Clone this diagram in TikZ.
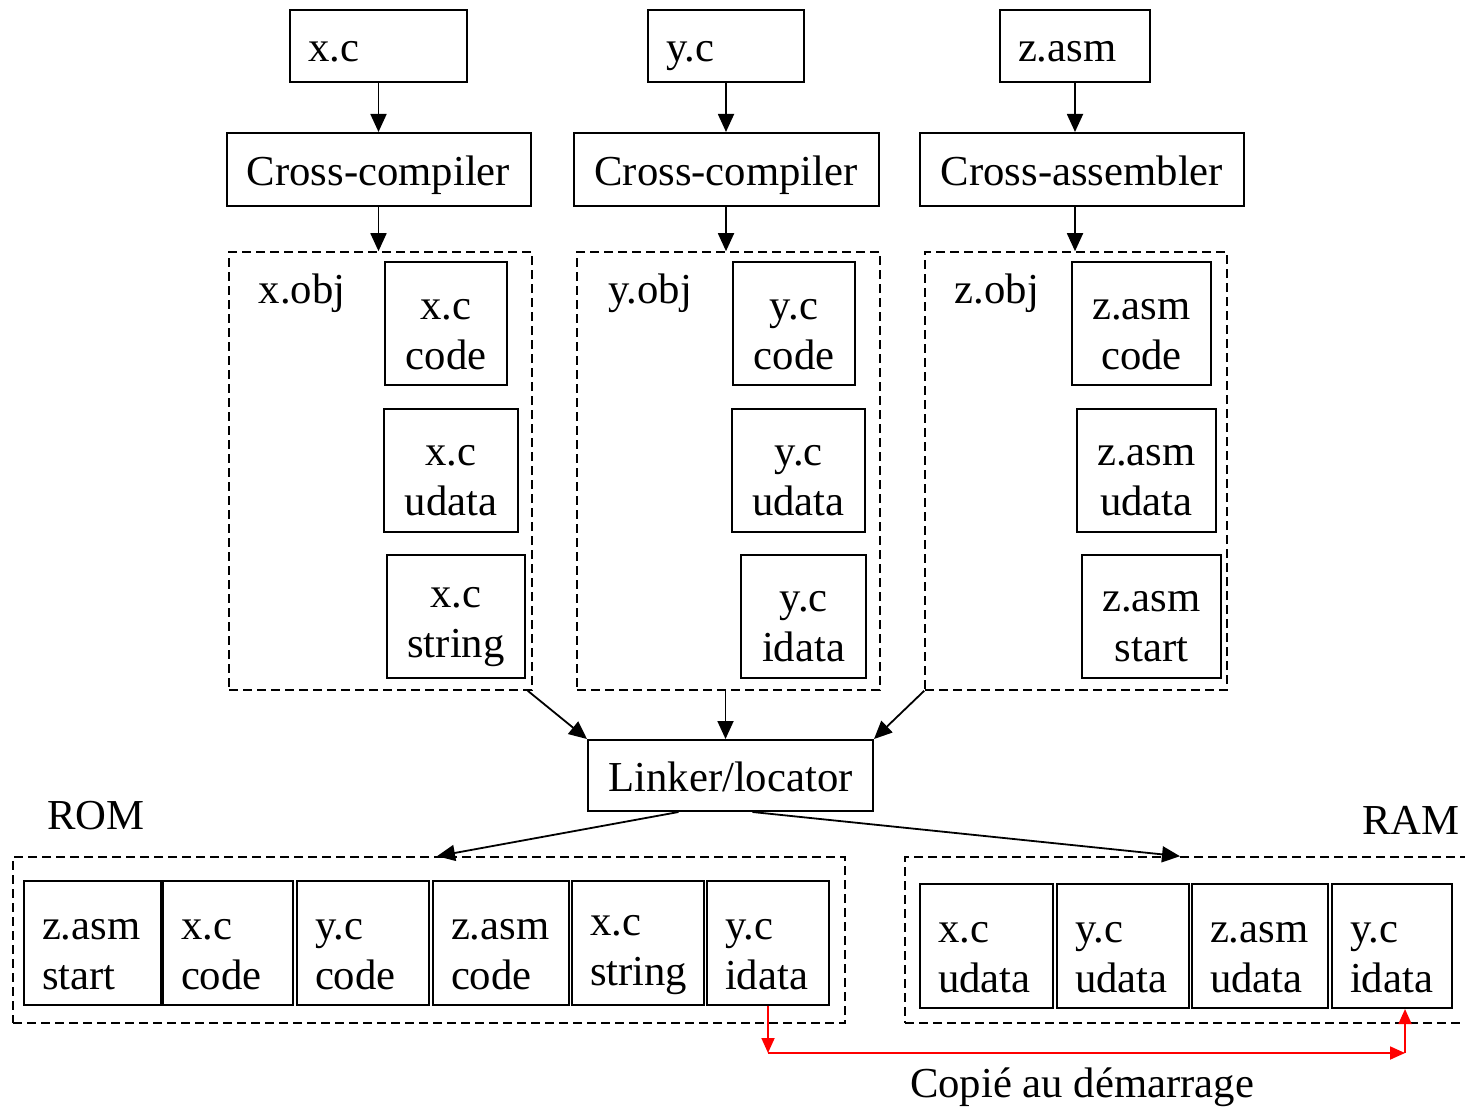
\documentclass[tikz,border=0pt]{standalone}
\usepackage{fontspec}
\setmainfont{Liberation Serif}
\usepackage{tikz}
\usetikzlibrary{arrows.meta, positioning}

\begin{document}
\begin{tikzpicture}[x=0.5pt, y=-0.5pt, font=\fontsize{21.35}{25}\selectfont,
    arr/.style={-{Triangle[length=9pt,width=8pt]}, line width=0.9pt},
    redarr/.style={-{Triangle[length=7.5pt,width=6.5pt]}, line width=0.9pt, red},
    txt/.style={text height=21pt, text depth=5pt},
    src/.style={draw, txt, line width=1pt, align=left, inner xsep=9pt, minimum height=36pt, text width=#1},
    tool/.style={draw, txt, line width=1pt, minimum height=36.5pt, minimum width=#1},
    part/.style={draw, line width=1pt, align=center, inner xsep=2pt, minimum height=61.5pt, text width=#1,
      execute at begin node={\rule{0pt}{21pt}}},
    cell/.style={draw, line width=1pt, align=left, inner xsep=9pt, minimum height=62pt, text width=#1,
      execute at begin node={\rule{0pt}{22pt}}},
    group/.style={draw, line width=0.8pt, dash pattern=on 4.5pt off 2.5pt, minimum height=#1}]
  \useasboundingbox (0,0) rectangle (1465,1107);
  \clip (0,0) rectangle (1465,1107);

  \node[src=70.5pt] (xc) at (378.5,46) {x.c};
  \node[src=60pt] (yc) at (726,46) {y.c};
  \node[src=57pt] (zasm) at (1075,46) {z.asm};

  \node[tool=152pt] (cc1) [below=24.5pt of xc] {Cross-compiler};
  \node[tool=152.5pt] (cc2) [below=24.5pt of yc] {Cross-compiler};
  \node[tool=162pt] (ca) [below=24.5pt of zasm, xshift=3.5pt] {Cross-assembler};

  \node[group=219pt, minimum width=151.5pt] (xobj) at (380.5,471) {};
  \node[group=219pt, minimum width=151.5pt] (yobj) at (728.5,471) {};
  \node[group=219pt, minimum width=151pt] (zobj) at (1076,471) {};
  \node[txt] (xlbl) at (302,287) {x.obj};
  \node[txt] (ylbl) at (650,287) {y.obj};
  \node[txt] (zlbl) at (997,287) {z.obj};

  \node[part=57pt] (xcode) at (446,323.5) {x.c\\code};
  \node[part=63pt] (xudata) at (451,470) {x.c\\udata};
  \node[part=65pt] (xstring) at (456,616) {x.c\\string};
  \node[part=57pt] (ycode) at (794,323.5) {y.c\\code};
  \node[part=62.5pt] (yudata) at (798.5,470) {y.c\\udata};
  \node[part=58.5pt] (yidata) at (803.5,616) {y.c\\idata};
  \node[part=65.5pt] (zcode) at (1141.5,323.5) {z.asm\\code};
  \node[part=65.5pt] (zudata) at (1146.5,470) {z.asm\\udata};
  \node[part=65.5pt] (zstart) at (1151.5,616) {z.asm\\start};

  \node[tool=142.5pt, minimum height=35.5pt] (linker) at (730.5,775.5) {Linker/locator};

  \node[txt] (romlbl) at (96,813) {ROM};
  \node[txt] (ramlbl) at (1411,818) {RAM};
  \node[group=83pt, minimum width=416pt] (rom) at (429,940) {};
  \node[group=83pt, minimum width=285pt] (ram) at (1190,940) {};

  \node[cell=50.5pt] (romzs) at (92.5,943) {z.asm\\start};
  \node[cell=47pt] (romxc) at (228,943) {x.c\\code};
  \node[cell=48pt] (romyc) at (363,943) {y.c\\code};
  \node[cell=50pt] (romzc) at (501,943) {z.asm\\code};
  \node[cell=48pt] (romxs) at (638,943) {x.c\\string};
  \node[cell=43pt] (romyi) at (768,943) {y.c\\idata};

  \node[cell=48.5pt] (ramxu) at (986.5,946) {x.c\\udata};
  \node[cell=48pt] (ramyu) at (1123,946) {y.c\\udata};
  \node[cell=50pt] (ramzu) at (1260,946) {z.asm\\udata};
  \node[cell=42pt] (ramyi) at (1392,946) {y.c\\idata};

  \draw[arr] (xc) -- (cc1);
  \draw[arr] (yc) -- (cc2);
  \draw[arr] (zasm.south) -- (zasm.south |- ca.north);
  \draw[arr] (cc1.south) -- (cc1.south |- xobj.north);
  \draw[arr] (cc2.south) -- (cc2.south |- yobj.north);
  \draw[arr] (zasm.south |- ca.south) -- (zasm.south |- zobj.north);
  \draw[arr] ([xshift=-2.5pt]xobj.south east) -- (linker.north west);
  \draw[arr] ([xshift=-1.5pt]yobj.south) -- ([xshift=-1.5pt]yobj.south |- linker.north);
  \draw[arr] (zobj.south west) -- (linker.north east);
  \draw[arr] ([xshift=-26pt]linker.south) -- ([xshift=4pt]rom.north);
  \draw[arr] ([xshift=11pt]linker.south) -- ([xshift=-5pt]ram.north);

  \coordinate (cp1) at (768,1053);
  \coordinate (cp2) at (1405,1053);
  \draw[redarr] (romyi.south) -- (cp1);
  \draw[redarr] (cp1) -- (cp2);
  \draw[redarr] (cp2) -- (cp2 |- ramyi.south);
  \node[txt] (copy) at (1082,1081) {Copié au démarrage};
\end{tikzpicture}
\end{document}
